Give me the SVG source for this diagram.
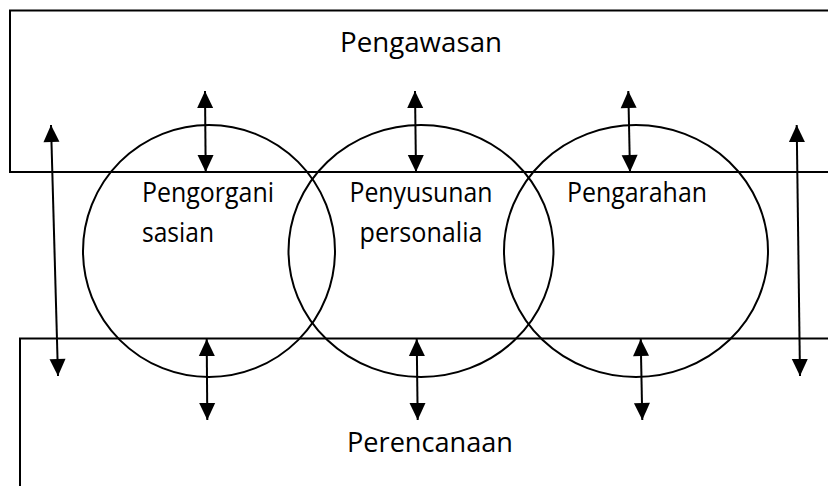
<svg xmlns="http://www.w3.org/2000/svg" width="828" height="486" viewBox="0 0 828 486">
  <style>
    .edge { fill: none; stroke: #000; stroke-width: 2; }
    .ring { fill: none; stroke: #000; stroke-width: 2; }
    .lbl { font-family: "Open Sans", "Noto Sans", "Liberation Sans", sans-serif; font-size: 26.5px; fill: #000; }
    .link { fill: none; stroke: #000; stroke-width: 2; marker-start: url(#head); marker-end: url(#head); }
  </style>
  <defs>
    <marker id="head" refX="17" refY="8" markerWidth="17" markerHeight="16" markerUnits="userSpaceOnUse" orient="auto-start-reverse" overflow="visible">
      <path d="M0,0 L17,8 L0,16 z" fill="#000"/>
    </marker>
  </defs>
  <rect width="828" height="486" fill="#fff"/>

  <!-- Pengawasan: open band across the top -->
  <g id="pengawasan">
    <path class="edge" d="M840,10.5 H10 V172 H840"/>
    <text class="lbl" x="421" y="52" text-anchor="middle" textLength="162" lengthAdjust="spacingAndGlyphs">Pengawasan</text>
  </g>

  <!-- Perencanaan: open band across the bottom -->
  <g id="perencanaan">
    <path class="edge" d="M840,338.5 H20 V492"/>
    <text class="lbl" x="430" y="452" text-anchor="middle" textLength="166" lengthAdjust="spacingAndGlyphs">Perencanaan</text>
  </g>

  <g id="pengorganisasian">
    <ellipse class="ring" cx="209" cy="251" rx="126" ry="126"/>
    <text class="lbl" x="142" y="202" textLength="132" lengthAdjust="spacingAndGlyphs">Pengorgani</text>
    <text class="lbl" x="142" y="242" textLength="72" lengthAdjust="spacingAndGlyphs">sasian</text>
  </g>

  <g id="penyusunan">
    <ellipse class="ring" cx="421" cy="251" rx="132.5" ry="126"/>
    <text class="lbl" x="421" y="202" text-anchor="middle" textLength="143" lengthAdjust="spacingAndGlyphs">Penyusunan</text>
    <text class="lbl" x="421" y="242" text-anchor="middle" textLength="123" lengthAdjust="spacingAndGlyphs">personalia</text>
  </g>

  <g id="pengarahan">
    <ellipse class="ring" cx="636" cy="251" rx="132" ry="126"/>
    <text class="lbl" x="567" y="202" textLength="140" lengthAdjust="spacingAndGlyphs">Pengarahan</text>
  </g>

  <!-- two-way links between the bands and the functions -->
  <g id="connectors">
    <line class="link" x1="205" y1="91" x2="205.7" y2="172"/>
    <line class="link" x1="415" y1="91" x2="416" y2="172"/>
    <line class="link" x1="628.3" y1="91" x2="630" y2="172"/>

    <line class="link" x1="51" y1="125" x2="58" y2="376"/>
    <line class="link" x1="796.7" y1="125" x2="800" y2="376"/>

    <line class="link" x1="206.7" y1="339" x2="207.3" y2="420"/>
    <line class="link" x1="416.7" y1="339" x2="417.7" y2="420"/>
    <line class="link" x1="640.7" y1="339" x2="642.3" y2="420"/>
  </g>
</svg>
